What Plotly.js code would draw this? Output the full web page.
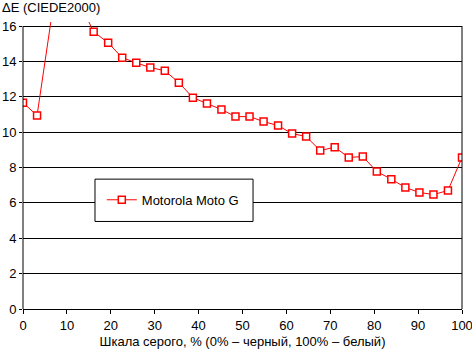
<!DOCTYPE html>
<html>
<head>
<meta charset="utf-8">
<script src="https://cdn.plot.ly/plotly-3.0.1.min.js"></script>
<style>html,body{margin:0;padding:0;background:#fff;}#chart{width:472px;height:352px;}</style>
</head>
<body>
<div id="chart"></div>
<script>
const seriesName = "Motorola Moto G";
const grayPercent = [0, 3.2, 6.5, 9.7, 12.9, 16.1, 19.4, 22.6, 25.8, 29.0, 32.3, 35.5, 38.7, 41.9, 45.2, 48.4, 51.6, 54.8, 58.1, 61.3, 64.5, 67.7, 71.0, 74.2, 77.4, 80.6, 83.9, 87.1, 90.3, 93.5, 96.8, 100];
const deltaE = [11.67, 10.94, 16.5, 18.0, 17.3, 15.68, 15.05, 14.21, 13.92, 13.65, 13.48, 12.80, 11.95, 11.62, 11.28, 10.88, 10.88, 10.60, 10.37, 9.92, 9.75, 8.96, 9.15, 8.57, 8.62, 7.77, 7.34, 6.87, 6.59, 6.47, 6.70, 8.57];
const xTicks = [0, 10, 20, 30, 40, 50, 60, 70, 80, 90, 100];
const yTicks = [0, 2, 4, 6, 8, 10, 12, 14, 16];
const xTitle = "Шкала серого, % (0% – черный, 100% – белый)";
const yTitle = "ΔE (CIEDE2000)";

const font = {family: "Liberation Sans, Arial, sans-serif", size: 13, color: "#000"};

const trace = {
  x: grayPercent, y: deltaE, name: seriesName, type: "scatter", mode: "lines+markers",
  line: {color: "#ff0000", width: 1},
  marker: {symbol: "square", size: 7, color: "#ffffff", line: {color: "#ff0000", width: 1.5}},
  cliponaxis: true
};

const layout = {
  width: 472, height: 352,
  margin: {l: 23, r: 10, t: 22, b: 43},
  paper_bgcolor: "#fff", plot_bgcolor: "#fff",
  font: font,
  showlegend: true,
  legend: {x: 0.1795, xanchor: "left", y: 0.3804, yanchor: "middle", bgcolor: "rgba(0,0,0,0)", borderwidth: 0, font: font, itemwidth: 30},
  xaxis: {
    range: [0, 100], tickvals: xTicks, ticktext: xTicks.map(String),
    ticks: "outside", ticklen: 4, tickcolor: "#000", tickwidth: 1,
    ticklabeloverflow: "allow",
    showgrid: false, zeroline: false, showline: true, linecolor: "#000", linewidth: 1,
    tickfont: font, title: {text: xTitle, font: font, standoff: 5}, fixedrange: true
  },
  yaxis: {
    range: [0, 16.23], tickvals: yTicks, ticktext: yTicks.map(String),
    ticks: "outside", ticklen: 3, tickcolor: "#000", tickwidth: 1,
    showgrid: true, gridcolor: "#000", gridwidth: 1, zeroline: false, showline: false,
    tickfont: font, title: {text: ""}, fixedrange: true
  },
  shapes: [
    {type: "line", xref: "paper", yref: "y", x0: 0, x1: 0, y0: 0, y1: 16, line: {color: "#000", width: 1}},
    {type: "line", xref: "paper", yref: "y", x0: 1, x1: 1, y0: 0, y1: 16, line: {color: "#000", width: 1}},
    {type: "rect", xref: "paper", yref: "paper", x0: 0.164, x1: 0.524, y0: 0.305, y1: 0.4525, layer: "above", fillcolor: "#fff", line: {color: "#000", width: 1}}
  ],
  annotations: [
    {text: yTitle, xref: "paper", yref: "paper", x: -23/439, xanchor: "left", y: 1 + 15/287.3, yanchor: "middle", showarrow: false, font: font}
  ]
};

Plotly.newPlot("chart", [trace], layout, {displayModeBar: false, staticPlot: true});
</script>
</body>
</html>
